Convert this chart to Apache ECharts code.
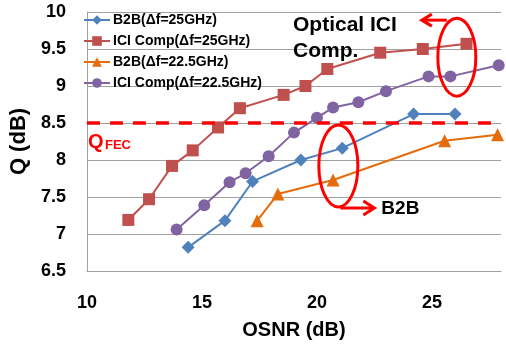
<!DOCTYPE html>
<html><head><meta charset="utf-8">
<script src="https://cdn.jsdelivr.net/npm/echarts@6/dist/echarts.min.js"></script>
<style>html,body{margin:0;padding:0;background:#fff}#c{width:506px;height:345px}</style>
</head><body><div id="c"></div>
<script>
const seriesNames = ['B2B(Δf=25GHz)','ICI Comp(Δf=25GHz)','B2B(Δf=22.5GHz)','ICI Comp(Δf=22.5GHz)'];
const b2b25Osnr = [14.4,16.0,17.2,19.3,21.1,24.2,26.0];
const b2b25Q = [6.82,7.18,7.71,8.0,8.16,8.62,8.62];
const ici25Osnr = [11.8,12.7,13.7,14.6,15.7,16.65,18.55,19.5,20.45,22.75,24.6,26.5];
const ici25Q = [7.19,7.47,7.92,8.13,8.44,8.70,8.88,9.0,9.23,9.45,9.50,9.57];
const b2b225Osnr = [17.4,18.3,20.7,25.55,27.85];
const b2b225Q = [7.18,7.54,7.73,8.26,8.34];
const ici225Osnr = [13.9,15.1,16.2,16.9,17.9,19.0,20.0,20.7,21.8,23.0,24.85,25.8,27.9];
const ici225Q = [7.06,7.39,7.70,7.82,8.05,8.37,8.57,8.71,8.78,8.93,9.13,9.13,9.28];
const xTicks = [10,15,20,25];
const yTicks = [6.5,7,7.5,8,8.5,9,9.5,10];
const qFec = 8.5;

const FONT = 'Liberation Sans, Arial, sans-serif';
const colors = ['#4F81BD','#C0504D','#E46C0A','#8064A2'];
const symbols = ['diamond','rect','triangle','circle'];
const sizes = [13,12,13,12];
const xs = [b2b25Osnr, ici25Osnr, b2b225Osnr, ici225Osnr];
const ys = [b2b25Q, ici25Q, b2b225Q, ici225Q];

const chart = echarts.init(document.getElementById('c'), null, {renderer:'canvas'});
const series = seriesNames.map((n,i)=>({
  name:n, type:'line',
  data: xs[i].map((x,j)=>[x, ys[i][j]]),
  symbol: symbols[i], symbolSize: sizes[i],
  itemStyle:{color:colors[i]},
  lineStyle:{color:colors[i], width:2},
  z: 3,
  animation:false
}));
series[0].markLine = {
  silent:true, symbol:'none', animation:false,
  label:{show:false},
  lineStyle:{color:'#FF0000', width:3.5, type:[13,10]},
  data:[{yAxis:qFec}]
};

chart.setOption({
  animation:false,
  grid:{left:83, right:5, top:12, bottom:68, containLabel:false},
  legend:{
    orient:'vertical', left:83, top:13, padding:0,
    itemWidth:26, itemHeight:12, itemGap:7,
    textStyle:{fontFamily:FONT, fontWeight:'bold', fontSize:14, color:'#000', padding:[0,0,0,-2]},
    data: seriesNames
  },
  xAxis:{
    type:'value', min:10, max:28, interval:5,
    name:'OSNR (dB)', nameLocation:'middle', nameGap:49,
    nameTextStyle:{fontFamily:FONT, fontWeight:'bold', fontSize:20, color:'#000'},
    axisLine:{show:true, lineStyle:{color:'#A0A0A0', width:1}},
    axisTick:{show:false},
    splitLine:{show:false},
    axisLabel:{fontFamily:FONT, fontWeight:'bold', fontSize:18, color:'#000', margin:23,
      showMaxLabel:false,
      formatter:v=> xTicks.includes(v) ? String(v) : ''}
  },
  yAxis:{
    type:'value', min:6.5, max:10, interval:0.5,
    name:'Q (dB)', nameLocation:'middle', nameGap:45, nameRotate:90,
    nameTextStyle:{fontFamily:FONT, fontWeight:'bold', fontSize:22, color:'#000'},
    axisLine:{show:true, lineStyle:{color:'#A0A0A0', width:1}},
    axisTick:{show:false},
    splitLine:{show:true, lineStyle:{color:'#A0A0A0', width:1}},
    axisLabel:{fontFamily:FONT, fontWeight:'bold', fontSize:18, color:'#000', margin:21,
      formatter:v=> yTicks.includes(v) ? String(v) : ''}
  },
  series: series
});

const p1 = chart.convertToPixel({gridIndex:0}, [26.08, 9.39]);
const p2 = chart.convertToPixel({gridIndex:0}, [20.93, 7.92]);
const red = '#FF0000';
chart.setOption({
  graphic:[
    {type:'ellipse', shape:{cx:p1[0], cy:p1[1], rx:19, ry:39}, style:{fill:null, stroke:red, lineWidth:3}, z:10},
    {type:'polyline', shape:{points:[[p1[0]-10, p1[1]-37],[p1[0]-35, p1[1]-37]]}, style:{stroke:red, lineWidth:3, fill:null}, z:10},
    {type:'polyline', shape:{points:[[p1[0]-25, p1[1]-43],[p1[0]-35, p1[1]-37],[p1[0]-25, p1[1]-31]]}, style:{stroke:red, lineWidth:3, fill:null}, z:10},
    {type:'ellipse', shape:{cx:p2[0], cy:p2[1], rx:19.5, ry:41}, style:{fill:null, stroke:red, lineWidth:3}, z:10},
    {type:'polyline', shape:{points:[[p2[0]+2, p2[1]+42],[p2[0]+36, p2[1]+42]]}, style:{stroke:red, lineWidth:3, fill:null}, z:10},
    {type:'polyline', shape:{points:[[p2[0]+25, p2[1]+35],[p2[0]+36, p2[1]+42],[p2[0]+25, p2[1]+49]]}, style:{stroke:red, lineWidth:3, fill:null}, z:10},
    {type:'text', x:293, y:12, z:10, style:{text:'Optical ICI\nComp.', font:'bold 21px '+FONT, fill:'#000', lineHeight:26}},
    {type:'text', x:p2[0]+43, y:p2[1]+43, z:10, style:{text:'B2B', font:'bold 19px '+FONT, fill:'#000', verticalAlign:'middle'}},
    {type:'text', x:88, y:142, z:10, style:{text:'Q', font:'bold 20px '+FONT, fill:red, verticalAlign:'middle'}},
    {type:'text', x:105, y:145, z:10, style:{text:'FEC', font:'bold 13px '+FONT, fill:red, verticalAlign:'middle'}}
  ]
});
</script></body></html>
